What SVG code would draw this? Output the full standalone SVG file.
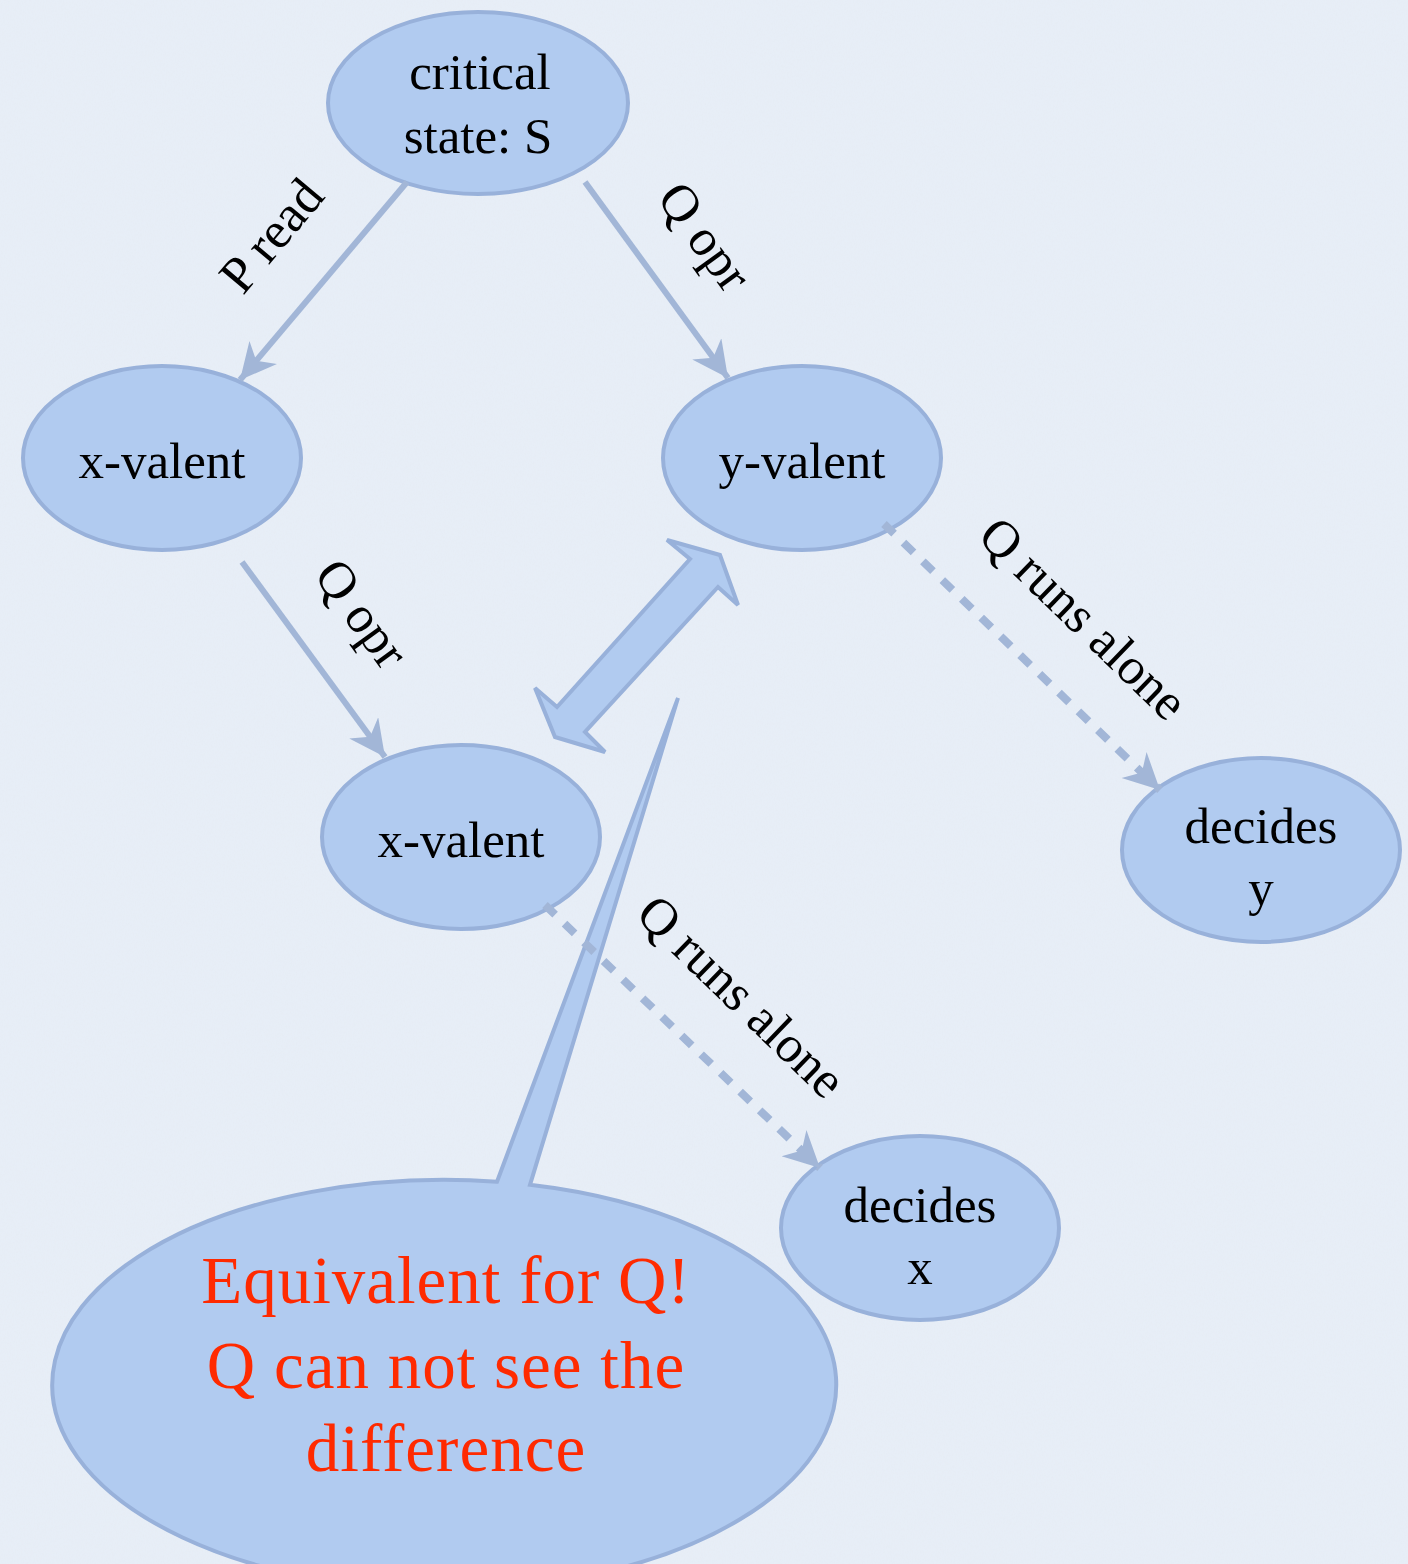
<svg xmlns="http://www.w3.org/2000/svg" width="1408" height="1564" viewBox="0 0 1408 1564">
  <style>
    .node { fill: #b1cbf0; stroke: #98b1da; stroke-width: 4; }
    .lbl { font-family: "Liberation Serif", "DejaVu Serif", serif; font-size: 51px; fill: #000; text-anchor: middle; }
    .elbl { font-family: "Liberation Serif", "DejaVu Serif", serif; font-size: 52px; fill: #000; text-anchor: middle; }
    .note { font-family: "Liberation Serif", "DejaVu Serif", serif; font-size: 67px; fill: #ff2a00; text-anchor: middle; letter-spacing: 1px; }
    .edge { stroke: #a2b6d7; stroke-width: 6; fill: none; }
    .dash { stroke: #a2b6d7; stroke-width: 8; fill: none; stroke-dasharray: 14 13; }
  </style>
  <defs>
    <marker id="head" viewBox="0 0 10 10" refX="10" refY="5" markerUnits="userSpaceOnUse" markerWidth="38" markerHeight="36" orient="auto">
      <path d="M0,0 L10,5 L0,10 L3,5 Z" fill="#a2b6d7"/>
    </marker>
    <filter id="paper" x="0" y="0" width="100%" height="100%">
      <feTurbulence type="fractalNoise" baseFrequency="0.9 0.35" numOctaves="3" seed="4" result="n"/>
      <feColorMatrix in="n" type="matrix" values="0 0 0 0 0.78  0 0 0 0 0.82  0 0 0 0 0.88  0 0 0 -1.1 0.75" result="spots"/>
      <feComposite in="spots" in2="SourceGraphic" operator="in"/>
    </filter>
  </defs>

  <!-- paper background -->
  <rect width="1408" height="1564" fill="#e7eef7"/>
  <rect width="1408" height="1564" fill="#e7eef7" filter="url(#paper)" opacity="0.6"/>

  <!-- speech balloon -->
  <g id="balloon">
    <path class="node" d="M497,1181.7 L678,698 L530,1184.8 A392,205 0 1 1 497,1181.7 Z"/>
    <text class="note" x="446" y="1303">Equivalent for Q!</text>
    <text class="note" x="446" y="1388">Q can not see the</text>
    <text class="note" x="446" y="1471">difference</text>
  </g>

  <!-- states -->
  <g id="critical">
    <ellipse class="node" cx="478" cy="103" rx="150" ry="91"/>
    <text class="lbl" x="480" y="89">critical</text>
    <text class="lbl" x="478" y="153">state: S</text>
  </g>
  <g id="x-valent-1">
    <ellipse class="node" cx="162" cy="458" rx="139" ry="92"/>
    <text class="lbl" x="162" y="478">x-valent</text>
  </g>
  <g id="y-valent">
    <ellipse class="node" cx="802" cy="458" rx="139" ry="92"/>
    <text class="lbl" x="802" y="478">y-valent</text>
  </g>
  <g id="x-valent-2">
    <ellipse class="node" cx="461" cy="837" rx="139" ry="92"/>
    <text class="lbl" x="461" y="857">x-valent</text>
  </g>
  <g id="decides-y">
    <ellipse class="node" cx="1261" cy="850" rx="139" ry="92"/>
    <text class="lbl" x="1261" y="843">decides</text>
    <text class="lbl" x="1261" y="905">y</text>
  </g>
  <g id="decides-x">
    <ellipse class="node" cx="920" cy="1228" rx="139" ry="92"/>
    <text class="lbl" x="920" y="1222">decides</text>
    <text class="lbl" x="920" y="1284">x</text>
  </g>

  <!-- transitions -->
  <g id="connectors">
    <line class="edge" x1="407" y1="182" x2="240" y2="380" marker-end="url(#head)"/>
    <line class="edge" x1="585" y1="182" x2="728" y2="378" marker-end="url(#head)"/>
    <line class="edge" x1="242" y1="562" x2="385" y2="757" marker-end="url(#head)"/>
    <line class="dash" x1="884" y1="524" x2="1160" y2="790" marker-end="url(#head)"/>
    <line class="dash" x1="545" y1="905" x2="820" y2="1168" marker-end="url(#head)"/>
    <polygon class="node" points="720,555 738,605 718,587 585,732 605,752 555,737 535,688 557,707 690,559 667,540"/>
  </g>

  <!-- transition labels -->
  <g id="edge-labels">
    <text class="elbl" transform="translate(273,237) rotate(-50)" x="0" y="15">P read</text>
    <text class="elbl" transform="translate(703,238) rotate(54)" x="0" y="15">Q opr</text>
    <text class="elbl" transform="translate(360,615) rotate(54)" x="0" y="15">Q opr</text>
    <text class="elbl" transform="translate(1082,620) rotate(44)" x="0" y="15">Q runs alone</text>
    <text class="elbl" transform="translate(740,998) rotate(44)" x="0" y="15">Q runs alone</text>
  </g>
</svg>
